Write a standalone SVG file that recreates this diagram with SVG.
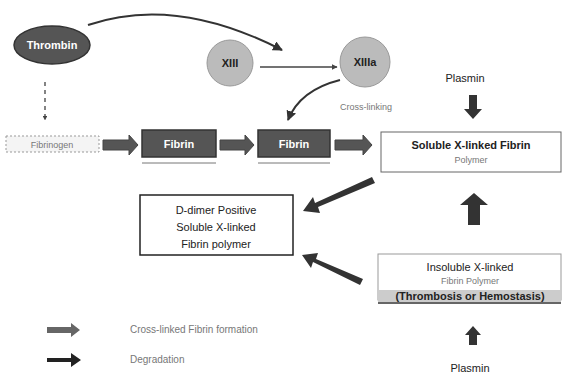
<svg xmlns="http://www.w3.org/2000/svg" width="562" height="380" viewBox="0 0 562 380">
<defs>
<marker id="ah" viewBox="0 0 10 10" refX="9" refY="5" markerWidth="5" markerHeight="5" orient="auto"><path d="M0,0 L10,5 L0,10 z" fill="#333"/></marker>
<marker id="ahs" viewBox="0 0 10 10" refX="9" refY="5" markerWidth="4" markerHeight="4" orient="auto"><path d="M0,0 L10,5 L0,10 z" fill="#444"/></marker>
</defs>
<style>
text{font-family:"Liberation Sans",Arial,sans-serif;text-anchor:middle}
.dk{fill:#555;stroke:#333;stroke-width:1.5}
.wt{fill:#fff;font-size:11px;font-weight:bold}
.lbl{fill:#222;font-size:11px}
.sm{fill:#777;font-size:9px}
.leg{fill:#777;font-size:10px;text-anchor:start}
.blk{fill:#555;stroke:#444;stroke-width:1}
.big{fill:#333}
</style>
<rect width="562" height="380" fill="#fff"/>

<g id="thrombin">
<ellipse cx="52" cy="45" rx="38" ry="19" class="dk"/>
<text x="52" y="49" class="wt">Thrombin</text>
</g>
<g id="xiii">
<circle cx="230" cy="63" r="23" fill="#bbb" stroke="#999"/>
<text x="230" y="67" class="lbl" font-weight="bold">XIII</text>
</g>
<g id="xiiia">
<circle cx="365" cy="62" r="25" fill="#bbb" stroke="#999"/>
<text x="365" y="66" class="lbl" font-weight="bold">XIIIa</text>
</g>
<g id="plasmin-top"><text x="465" y="82" class="lbl" font-size="13">Plasmin</text></g>
<g id="fibrinogen">
<rect x="6" y="136" width="93" height="16" fill="#f4f4f4" stroke="#999" stroke-dasharray="2,2"/>
<text x="52" y="148" class="sm">Fibrinogen</text>
</g>
<g id="fibrin1">
<rect x="142" y="130" width="74" height="27" class="dk"/>
<text x="179" y="148" class="wt">Fibrin</text>
<line x1="142" y1="163" x2="216" y2="163" stroke="#777" stroke-width="1"/>
</g>
<g id="fibrin2">
<rect x="258" y="130" width="72" height="27" class="dk"/>
<text x="294" y="148" class="wt">Fibrin</text>
<line x1="258" y1="163" x2="330" y2="163" stroke="#777" stroke-width="1"/>
</g>
<g id="soluble">
<rect x="381" y="132" width="180" height="40" fill="#fff" stroke="#666"/>
<text x="471" y="149" class="lbl" font-weight="bold">Soluble X-linked Fibrin</text>
<text x="471" y="163" class="sm">Polymer</text>
</g>
<g id="ddimer">
<rect x="140" y="195" width="153" height="60" fill="#fff" stroke="#222" stroke-width="1.5"/>
<text x="216" y="214" class="lbl" font-size="12">D-dimer Positive</text>
<text x="216" y="231" class="lbl" font-size="12">Soluble X-linked</text>
<text x="216" y="248" class="lbl" font-size="12">Fibrin polymer</text>
</g>
<g id="insoluble">
<rect x="378" y="254" width="183" height="46" fill="#fff" stroke="#999"/>
<text x="470" y="271" class="lbl">Insoluble X-linked</text>
<text x="470" y="284" class="sm">Fibrin Polymer</text>
<rect x="378" y="290" width="183" height="12" fill="#ccc"/>
<text x="470" y="300" class="lbl" font-weight="bold">(Thrombosis or Hemostasis)</text>
<line x1="378" y1="303" x2="561" y2="303" stroke="#333" stroke-width="1.5"/>
</g>
<g id="plasmin-bottom"><text x="470" y="372" class="lbl" font-size="13">Plasmin</text></g>
<g id="crosslinking"><text x="366" y="110" class="sm">Cross-linking</text></g>

<g id="connectors">
<path d="M88,25 Q175,-5 282,50" fill="none" stroke="#333" stroke-width="2" marker-end="url(#ah)"/>
<line x1="45" y1="82" x2="45" y2="120" stroke="#333" stroke-width="1.2" stroke-dasharray="4,4" marker-end="url(#ahs)"/>
<line x1="260" y1="67" x2="337" y2="67" stroke="#444" stroke-width="1.5" marker-end="url(#ahs)"/>
<path d="M340,80 Q300,90 288,120" fill="none" stroke="#333" stroke-width="2" marker-end="url(#ah)"/>
<path d="M103,140 h26 v-5 l9,10 l-9,10 v-5 h-26 z" class="blk"/>
<path d="M220,140 h25 v-5 l9,10 l-9,10 v-5 h-25 z" class="blk"/>
<path d="M335,140 h28 v-5 l9,10 l-9,10 v-5 h-28 z" class="blk"/>
<path d="M469,95 h8 v14 h5 l-9,10 l-9,-10 h5 z" class="big"/>
<path d="M375,183 L318,207 L320,213 L303,211 L313,197 L315,203 L372,177 z" class="big"/>
<path d="M363,279 L316,259 L318,253 L302,255 L311,268 L313,262 L360,285 z" class="big"/>
<path d="M468,225 v-20 h-8 l14,-12 l14,12 h-8 v20 z" class="big"/>
<path d="M469,345 v-10 h-4 l8,-9 l8,9 h-4 v10 z" class="big"/>
</g>

<g id="legend">
<path d="M47,327 h24 v-4 l9,7 l-9,7 v-4 h-24 z" fill="#666"/>
<text x="130" y="333" class="leg">Cross-linked Fibrin formation</text>
<path d="M47,358 h24 v-5 l10,7 l-10,7 v-5 h-24 z" fill="#222"/>
<text x="130" y="363" class="leg">Degradation</text>
</g>
</svg>
